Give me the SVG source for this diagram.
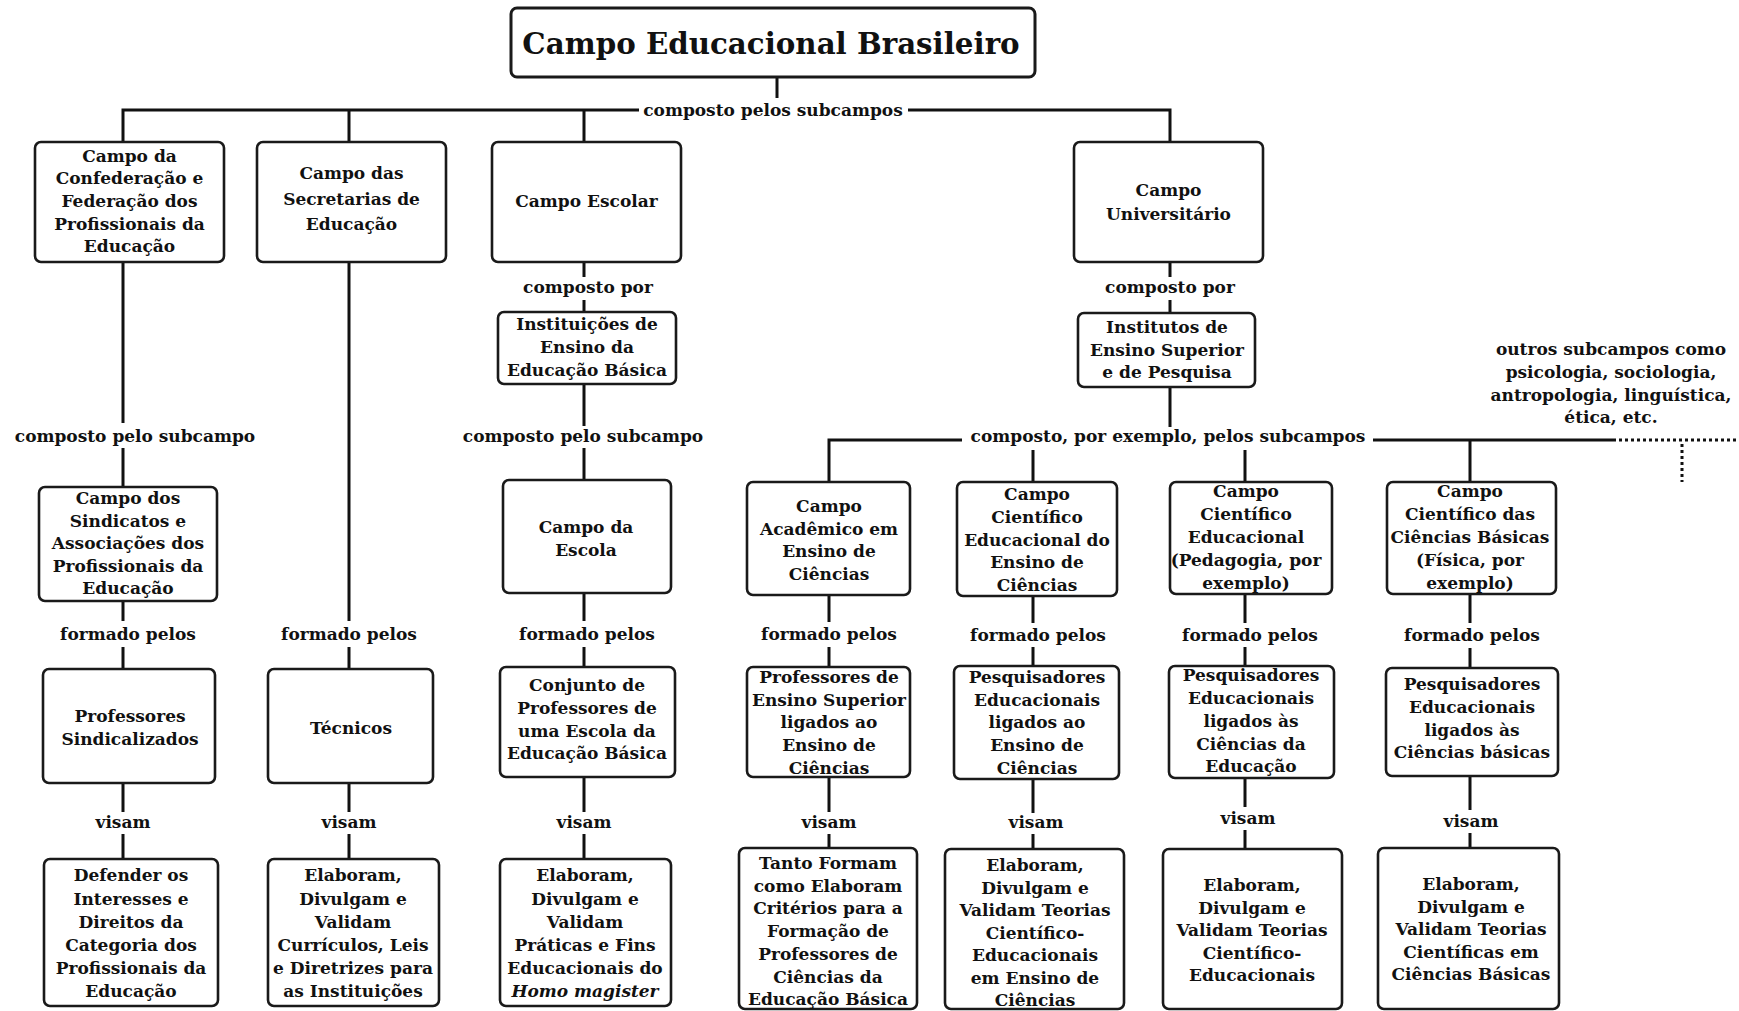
<svg xmlns="http://www.w3.org/2000/svg" width="1739" height="1011" viewBox="0 0 1739 1011">
<style>
.box{fill:#fff;stroke:#1a1a1a;stroke-width:2.6}
.t{font-family:"DejaVu Serif","Liberation Serif",serif;font-weight:bold;font-size:17px;text-anchor:middle;fill:#111}
.title{font-size:29.3px}
.ln{stroke:#111;stroke-width:3;fill:none}
.dot{stroke-dasharray:3 3}
.it{font-style:italic}
</style>
<rect width="1739" height="1011" fill="#fff"/>
<g id="connectors">
<path class="ln" d="M777,77V98"/>
<path class="ln" d="M123,142V110H639"/>
<path class="ln" d="M908,110H1170V142"/>
<path class="ln" d="M349,110V142M584,110V142"/>
<path class="ln" d="M123,262V423M123,448V487M123,601V621M123,647V669M123,783V812M123,834V859"/>
<path class="ln" d="M349,262V621M349,647V669M349,783V812M349,834V859"/>
<path class="ln" d="M584,262V277M584,300V312M584,384V426M584,448V480M584,593V621M584,647V667M584,777V812M584,834V859"/>
<path class="ln" d="M1170,262V277M1170,300V313M1170,387V427"/>
<path class="ln" d="M829,482V440H962M1373,440H1613M1470,440V482M1033,450V482M1245,450V482"/>
<path class="ln dot" d="M1613,440H1739M1682,444V482"/>
<path class="ln" d="M829,595V622M829,647V667M829,777V812M829,834V848"/>
<path class="ln" d="M1033,596V623M1033,647V666M1033,779V813M1033,834V849"/>
<path class="ln" d="M1245,594V623M1245,647V666M1245,778V807M1245,830V849"/>
<path class="ln" d="M1470,594V623M1470,648V668M1470,776V810M1470,833V848"/>
<g class="t">
<text x="773" y="116">composto pelos subcampos</text>
<text x="135" y="442">composto pelo subcampo</text>
<text x="583" y="442">composto pelo subcampo</text>
<text x="588" y="293">composto por</text>
<text x="1170" y="293">composto por</text>
<text x="1168" y="442">composto, por exemplo, pelos subcampos</text>
<text x="1611"><tspan x="1611" y="355">outros subcampos como</tspan><tspan x="1611" y="378">psicologia, sociologia,</tspan><tspan x="1611" y="400.5">antropologia, linguística,</tspan><tspan x="1611" y="423">ética, etc.</tspan></text>
<text x="128" y="640">formado pelos</text>
<text x="349" y="640">formado pelos</text>
<text x="587" y="640">formado pelos</text>
<text x="829" y="640">formado pelos</text>
<text x="1038" y="641">formado pelos</text>
<text x="1250" y="641">formado pelos</text>
<text x="1472" y="641">formado pelos</text>
<text x="123" y="828">visam</text>
<text x="349" y="828">visam</text>
<text x="584" y="828">visam</text>
<text x="829" y="828">visam</text>
<text x="1036" y="828">visam</text>
<text x="1248" y="824">visam</text>
<text x="1471" y="827">visam</text>
</g>
</g>
<g id="n-root"><rect class="box" x="511" y="8" width="524" height="69" rx="6" style="stroke-width:3"/><text class="t title" x="771" y="54">Campo Educacional Brasileiro</text></g>
<g id="n-confed"><rect class="box" x="35" y="142" width="189" height="120" rx="6"/><text class="t"><tspan x="129.5" y="161.5">Campo da</tspan><tspan x="129.5" y="184">Confederação e</tspan><tspan x="129.5" y="207">Federação dos</tspan><tspan x="129.5" y="229.5">Profissionais da</tspan><tspan x="129.5" y="252">Educação</tspan></text></g>
<g id="n-secret"><rect class="box" x="257" y="142" width="189" height="120" rx="6"/><text class="t"><tspan x="351.5" y="179">Campo das</tspan><tspan x="351.5" y="205">Secretarias de</tspan><tspan x="351.5" y="230">Educação</tspan></text></g>
<g id="n-escolar"><rect class="box" x="492" y="142" width="189" height="120" rx="6"/><text class="t" x="586.5" y="207">Campo Escolar</text></g>
<g id="n-univ"><rect class="box" x="1074" y="142" width="189" height="120" rx="6"/><text class="t"><tspan x="1168.5" y="196">Campo</tspan><tspan x="1168.5" y="220">Universitário</tspan></text></g>
<g id="n-instit"><rect class="box" x="498" y="312" width="178" height="72" rx="6"/><text class="t"><tspan x="587" y="330">Instituições de</tspan><tspan x="587" y="353">Ensino da</tspan><tspan x="587" y="376">Educação Básica</tspan></text></g>
<g id="n-ies"><rect class="box" x="1078" y="313" width="177" height="74" rx="6"/><text class="t"><tspan x="1167" y="333">Institutos de</tspan><tspan x="1167" y="356">Ensino Superior</tspan><tspan x="1167" y="378">e de Pesquisa</tspan></text></g>
<g id="n-sind"><rect class="box" x="39" y="487" width="178" height="114" rx="6"/><text class="t"><tspan x="128" y="504">Campo dos</tspan><tspan x="128" y="526.5">Sindicatos e</tspan><tspan x="128" y="549">Associações dos</tspan><tspan x="128" y="571.5">Profissionais da</tspan><tspan x="128" y="594">Educação</tspan></text></g>
<g id="n-escola"><rect class="box" x="503" y="480" width="168" height="113" rx="6"/><text class="t"><tspan x="586" y="533">Campo da</tspan><tspan x="586" y="556">Escola</tspan></text></g>
<g id="n-acad"><rect class="box" x="747" y="482" width="163" height="113" rx="6"/><text class="t"><tspan x="829" y="512">Campo</tspan><tspan x="829" y="535">Acadêmico em</tspan><tspan x="829" y="557">Ensino de</tspan><tspan x="829" y="580">Ciências</tspan></text></g>
<g id="n-cied"><rect class="box" x="957" y="482" width="160" height="114" rx="6"/><text class="t"><tspan x="1037" y="500">Campo</tspan><tspan x="1037" y="523">Científico</tspan><tspan x="1037" y="545.5">Educacional do</tspan><tspan x="1037" y="568">Ensino de</tspan><tspan x="1037" y="590.5">Ciências</tspan></text></g>
<g id="n-ciped"><rect class="box" x="1170" y="482" width="162" height="112" rx="6"/><text class="t"><tspan x="1246" y="497">Campo</tspan><tspan x="1246" y="520">Científico</tspan><tspan x="1246" y="543">Educacional</tspan><tspan x="1246" y="566">(Pedagogia, por</tspan><tspan x="1246" y="589">exemplo)</tspan></text></g>
<g id="n-cibas"><rect class="box" x="1387" y="482" width="169" height="112" rx="6"/><text class="t"><tspan x="1470" y="497">Campo</tspan><tspan x="1470" y="520">Científico das</tspan><tspan x="1470" y="543">Ciências Básicas</tspan><tspan x="1470" y="566">(Física, por</tspan><tspan x="1470" y="589">exemplo)</tspan></text></g>
<g id="n-profsind"><rect class="box" x="43" y="669" width="172" height="114" rx="6"/><text class="t"><tspan x="130" y="722">Professores</tspan><tspan x="130" y="745">Sindicalizados</tspan></text></g>
<g id="n-tecn"><rect class="box" x="268" y="669" width="165" height="114" rx="6"/><text class="t" x="351" y="734">Técnicos</text></g>
<g id="n-conj"><rect class="box" x="500" y="667" width="175" height="110" rx="6"/><text class="t"><tspan x="587" y="691">Conjunto de</tspan><tspan x="587" y="714">Professores de</tspan><tspan x="587" y="737">uma Escola da</tspan><tspan x="587" y="759">Educação Básica</tspan></text></g>
<g id="n-profsup"><rect class="box" x="747" y="667" width="163" height="110" rx="6"/><text class="t"><tspan x="829" y="683">Professores de</tspan><tspan x="829" y="705.5">Ensino Superior</tspan><tspan x="829" y="728">ligados ao</tspan><tspan x="829" y="751">Ensino de</tspan><tspan x="829" y="774">Ciências</tspan></text></g>
<g id="n-pesq1"><rect class="box" x="954" y="666" width="165" height="113" rx="6"/><text class="t"><tspan x="1037" y="683">Pesquisadores</tspan><tspan x="1037" y="705.5">Educacionais</tspan><tspan x="1037" y="728">ligados ao</tspan><tspan x="1037" y="751">Ensino de</tspan><tspan x="1037" y="774">Ciências</tspan></text></g>
<g id="n-pesq2"><rect class="box" x="1169" y="666" width="165" height="112" rx="6"/><text class="t"><tspan x="1251" y="681">Pesquisadores</tspan><tspan x="1251" y="704">Educacionais</tspan><tspan x="1251" y="727">ligados às</tspan><tspan x="1251" y="750">Ciências da</tspan><tspan x="1251" y="772">Educação</tspan></text></g>
<g id="n-pesq3"><rect class="box" x="1386" y="668" width="172" height="108" rx="6"/><text class="t"><tspan x="1472" y="690">Pesquisadores</tspan><tspan x="1472" y="713">Educacionais</tspan><tspan x="1472" y="735.5">ligados às</tspan><tspan x="1472" y="758">Ciências básicas</tspan></text></g>
<g id="n-defender"><rect class="box" x="44" y="859" width="174" height="147" rx="6"/><text class="t"><tspan x="131" y="881">Defender os</tspan><tspan x="131" y="905">Interesses e</tspan><tspan x="131" y="928">Direitos da</tspan><tspan x="131" y="951">Categoria dos</tspan><tspan x="131" y="974">Profissionais da</tspan><tspan x="131" y="997">Educação</tspan></text></g>
<g id="n-curric"><rect class="box" x="268" y="859" width="171" height="147" rx="6"/><text class="t"><tspan x="353" y="881">Elaboram,</tspan><tspan x="353" y="905">Divulgam e</tspan><tspan x="353" y="928">Validam</tspan><tspan x="353" y="951">Currículos, Leis</tspan><tspan x="353" y="974">e Diretrizes para</tspan><tspan x="353" y="997">as Instituições</tspan></text></g>
<g id="n-praticas"><rect class="box" x="500" y="859" width="171" height="147" rx="6"/><text class="t"><tspan x="585" y="881">Elaboram,</tspan><tspan x="585" y="905">Divulgam e</tspan><tspan x="585" y="928">Validam</tspan><tspan x="585" y="951">Práticas e Fins</tspan><tspan x="585" y="974">Educacionais do</tspan><tspan x="585" y="997" class="it">Homo magister</tspan></text></g>
<g id="n-tanto"><rect class="box" x="739" y="848" width="178" height="161" rx="6"/><text class="t"><tspan x="828" y="869">Tanto Formam</tspan><tspan x="828" y="891.7">como Elaboram</tspan><tspan x="828" y="914.4">Critérios para a</tspan><tspan x="828" y="937">Formação de</tspan><tspan x="828" y="959.8">Professores de</tspan><tspan x="828" y="982.5">Ciências da</tspan><tspan x="828" y="1005">Educação Básica</tspan></text></g>
<g id="n-teorias1"><rect class="box" x="945" y="849" width="179" height="160" rx="6"/><text class="t"><tspan x="1035" y="871">Elaboram,</tspan><tspan x="1035" y="894">Divulgam e</tspan><tspan x="1035" y="916">Validam Teorias</tspan><tspan x="1035" y="939">Científico-</tspan><tspan x="1035" y="961">Educacionais</tspan><tspan x="1035" y="984">em Ensino de</tspan><tspan x="1035" y="1006">Ciências</tspan></text></g>
<g id="n-teorias2"><rect class="box" x="1163" y="849" width="179" height="160" rx="6"/><text class="t"><tspan x="1252" y="891">Elaboram,</tspan><tspan x="1252" y="913.5">Divulgam e</tspan><tspan x="1252" y="936">Validam Teorias</tspan><tspan x="1252" y="958.5">Científico-</tspan><tspan x="1252" y="981">Educacionais</tspan></text></g>
<g id="n-teorias3"><rect class="box" x="1378" y="848" width="181" height="161" rx="6"/><text class="t"><tspan x="1471" y="890">Elaboram,</tspan><tspan x="1471" y="912.5">Divulgam e</tspan><tspan x="1471" y="935">Validam Teorias</tspan><tspan x="1471" y="957.5">Científicas em</tspan><tspan x="1471" y="980">Ciências Básicas</tspan></text></g>
</svg>
